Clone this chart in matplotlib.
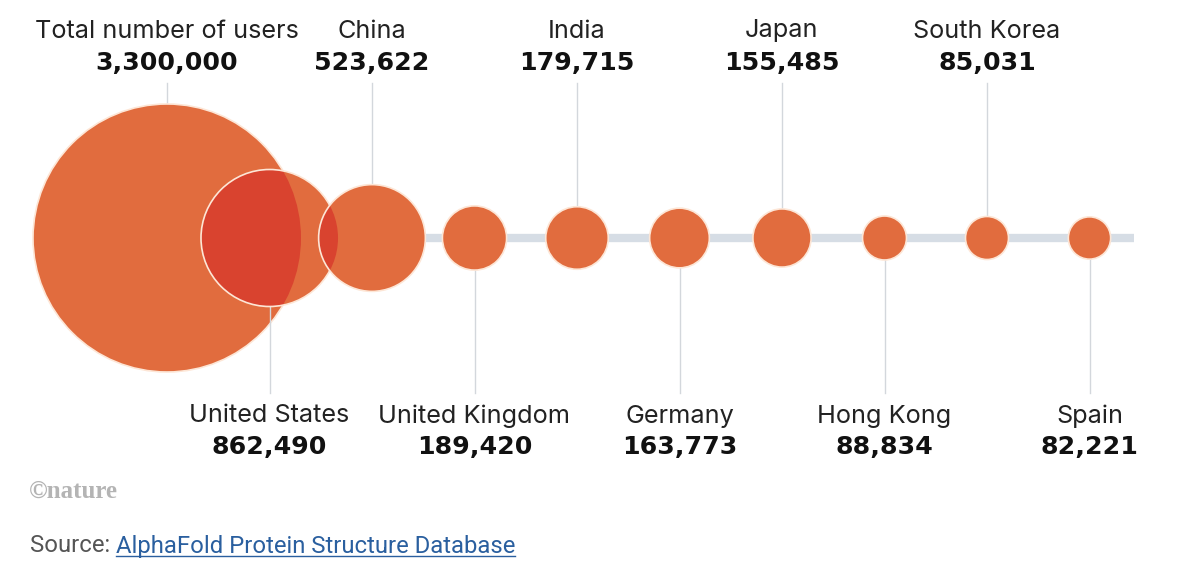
import numpy as np
import matplotlib
matplotlib.use("Agg")
import matplotlib.pyplot as plt
from matplotlib.patches import Circle

# data
names = ["Total number of users", "United States", "China", "United Kingdom", "India",
         "Germany", "Japan", "Hong Kong", "South Korea", "Spain"]
users = [3300000, 862490, 523622, 189420, 179715, 163773, 155485, 88834, 85031, 82221]

orange = "#e16c3e"
red = "#d9432f"
edge = "#fde6d6"
line_grey = "#d3d7dc"
bar_grey = "#d6dde5"

fig = plt.figure(figsize=(12, 5.66), dpi=100)
ax = fig.add_axes([0, 0, 1, 1])
ax.set_xlim(0, 1200)
ax.set_ylim(566, 0)
ax.axis("off")

# layout in pixel space
cy = 238
x0, step = 167, 102.5
scale = 134 / np.sqrt(users[0])
xs = [x0 + i * step for i in range(len(users))]
rs = [scale * np.sqrt(v) for v in users]

name_kw = dict(ha="center", va="center", fontsize=18.2, family="Inter", color="#222222")
num_kw = dict(ha="center", va="center", fontsize=18.2, family="DejaVu Sans",
              fontweight="bold", color="#111111")

# grey connecting bar
ax.plot([x0, 1134], [cy, cy], color=bar_grey, lw=6, solid_capstyle="butt", zorder=1)

circles = []
for i, (x, r, v, name) in enumerate(zip(xs, rs, users, names)):
    top = i % 2 == 0
    if top:
        ax.plot([x, x], [83, cy - r], color=line_grey, lw=1, zorder=1.5)
        ax.text(x, 31, name, **name_kw)
        ax.text(x, 63, f"{v:,}", **num_kw)
    else:
        ax.plot([x, x], [cy + r, 393], color=line_grey, lw=1, zorder=2.5)
        ax.text(x, 416, name, **name_kw)
        ax.text(x, 447, f"{v:,}", **num_kw)

    z = 2 + i
    c = Circle((x, cy), r, facecolor=orange, edgecolor="none", zorder=z)
    ax.add_patch(c)
    # overlap with previous circle shows darker red
    if i > 0 and xs[i] - rs[i] < xs[i - 1] + rs[i - 1]:
        ov = Circle((x, cy), r, facecolor=red, edgecolor="none", zorder=z + 0.1)
        ax.add_patch(ov)
        ov.set_clip_path(circles[i - 1])
    ax.add_patch(Circle((x, cy), r, facecolor="none", edgecolor=edge, lw=1.2, zorder=z + 0.2))
    circles.append(c)

# footer
ax.text(29, 491, "©nature", ha="left", va="center", fontsize=18, family="Liberation Serif",
        fontweight="bold", color="#b4b4b4")
t = ax.text(30, 546, "Source: ", ha="left", va="center", fontsize=17.2, family="Roboto", color="#555555")
fig.canvas.draw()
bb = t.get_window_extent()
link = ax.annotate("AlphaFold Protein Structure Database", xy=(bb.x1, (bb.y0 + bb.y1) / 2),
                   xycoords="figure pixels", fontsize=17.2, family="Roboto",
                   color="#2a5f9f", ha="left", va="center")
fig.canvas.draw()
lb = link.get_window_extent()
ax.plot([lb.x0, lb.x1], [566 - lb.y0 - 2, 566 - lb.y0 - 2], color="#2a5f9f", lw=1)

fig.savefig("out.png", dpi=100, facecolor="white")
